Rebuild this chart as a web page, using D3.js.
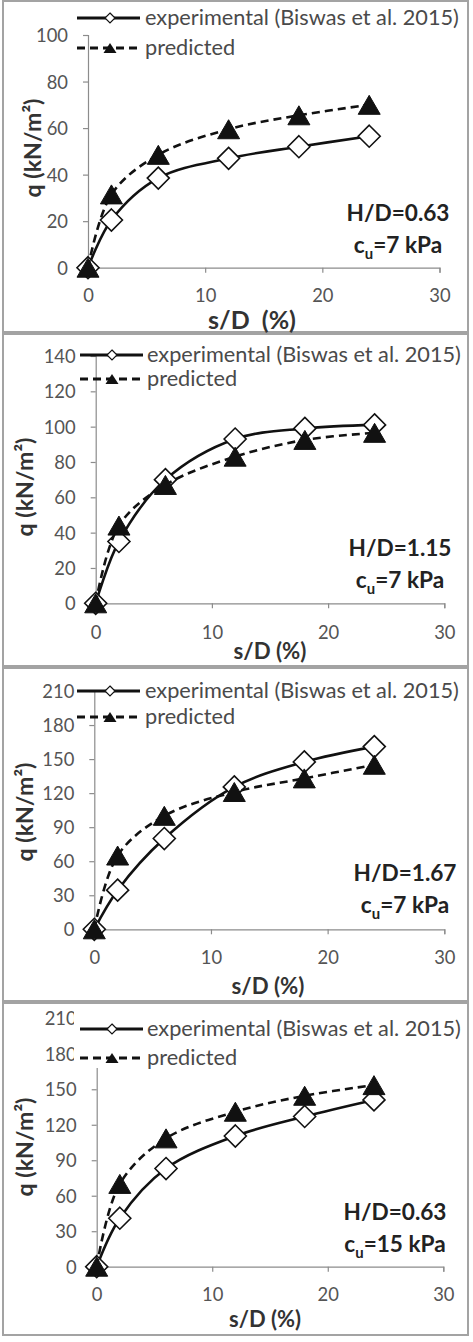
<!DOCTYPE html>
<html>
<head>
<meta charset="utf-8">
<script src="https://cdn.jsdelivr.net/npm/d3@7"></script>
<style>
  body { margin: 0; background: #fff; }
  svg { display: block; }
</style>
</head>
<body>
<svg id="chart"></svg>
<script>
// settlement ratio s/D (%) - same for every panel
const sD = [0, 2, 6, 12, 18, 24];
const xTicks = [0, 10, 20, 30];

// q (kN/m2)
const exp063cu7 = [0, 20.5, 38.5, 47, 52, 56.5];
const pred063cu7 = [0, 31.5, 48.5, 59.5, 65.5, 70];
const exp115cu7 = [0, 35, 70, 93, 99, 101];
const pred115cu7 = [0, 44, 67, 83, 92.5, 96.5];
const exp167cu7 = [0, 34.5, 80, 125.5, 147.5, 161];
const pred167cu7 = [0, 65, 100, 121, 133, 145];
const exp063cu15 = [0, 41, 83, 110.5, 127, 141];
const pred063cu15 = [0, 70, 108.5, 131, 144.5, 153.5];

const yTicks100 = [0, 20, 40, 60, 80, 100];
const yTicks140 = [0, 20, 40, 60, 80, 100, 120, 140];
const yTicks210 = [0, 30, 60, 90, 120, 150, 180, 210];

const seriesNames = ["experimental (Biswas et al. 2015)", "predicted"];
const hdLabels = ["H/D=0.63", "H/D=1.15", "H/D=1.67", "H/D=0.63"];
const cuValues = ["7", "7", "7", "15"];

// scale a text's font so it spans the width seen in the figure
function fitWidth(sel, target) {
  const w = sel.node().getComputedTextLength();
  const fs = parseFloat(sel.style('font-size'));
  const nfs = fs * target / w;
  sel.style('font-size', nfs + 'px');
  return nfs;
}

class SettlementPanel {

  constructor(_config, _data) {
    this.config = _config;
    this.data = _data;
    this.initVis();
  }

  initVis() {
    let vis = this;
    const c = vis.config;
    const g = d3.select('#chart').append('g');
    vis.g = g;

    // panel frame
    g.append('rect')
      .attr('x', 3).attr('y', c.top)
      .attr('width', 465).attr('height', c.bottom - c.top)
      .attr('fill', 'none')
      .attr('stroke', '#a3a3a3')
      .attr('stroke-width', 2);

    vis.xScale = d3.scaleLinear().domain([0, 30]).range([c.x0, c.x30]);
    vis.yScale = d3.scaleLinear().domain([0, d3.max(vis.data.yTicks)]).range([c.y0, c.yTop]);

    // tick font: three digits are about 32px wide in the figure
    const probe = g.append('text').style('font-family', 'Lato').style('font-size', '20px').text('100');
    const tickFs = fitWidth(probe, 32);
    probe.remove();

    const xAxis = g.append('g')
      .attr('transform', `translate(0, ${c.y0})`)
      .call(d3.axisBottom(vis.xScale).tickValues(xTicks).tickSize(5).tickSizeOuter(5).tickPadding(c.xPad));

    const yAxis = g.append('g')
      .attr('transform', `translate(${c.x0}, 0)`)
      .call(d3.axisLeft(vis.yScale).tickValues(vis.data.yTicks).tickSize(5).tickSizeOuter(5).tickPadding(c.yPad));

    [xAxis, yAxis].forEach(a => {
      a.selectAll('path, line').attr('stroke', '#8c8c8c').attr('stroke-width', 1.2);
      a.selectAll('text')
        .attr('fill', '#555')
        .style('font-family', 'Lato')
        .style('font-size', tickFs + 'px');
    });
    yAxis.selectAll('text').attr('dy', '0.36em');

    // axis titles
    const xt = g.append('text')
      .attr('x', c.xTitle[0]).attr('y', c.xTitle[1])
      .attr('text-anchor', 'middle')
      .attr('dy', '0.35em')
      .style('font-family', 'Lato').style('font-weight', 'bold').style('font-size', '20px')
      .attr('fill', '#333')
      .attr('xml:space', 'preserve')
      .text(c.xTitleText);
    fitWidth(xt, c.xTitleW);

    const yt = g.append('text')
      .attr('transform', `translate(${c.yTitle[0]}, ${c.yTitle[1]}) rotate(-90)`)
      .attr('text-anchor', 'middle')
      .attr('dy', '0.35em')
      .style('font-family', 'Lato').style('font-weight', 'bold').style('font-size', '20px')
      .attr('fill', '#333')
      .text('q (kN/m²)');
    fitWidth(yt, 99);

    // annotation
    const hd = g.append('text')
      .attr('x', c.note[0]).attr('y', c.note[1])
      .attr('text-anchor', 'middle').attr('dy', '0.35em')
      .style('font-family', 'Lato').style('font-weight', 'bold').style('font-size', '24px')
      .attr('fill', '#222')
      .text(vis.data.hd);
    const noteFs = fitWidth(hd, 103);

    const cu = g.append('text')
      .attr('x', c.note[0]).attr('y', c.note[1] + 32)
      .attr('text-anchor', 'middle').attr('dy', '0.35em')
      .style('font-family', 'Lato').style('font-weight', 'bold').style('font-size', noteFs + 'px')
      .attr('fill', '#222');
    cu.append('tspan').text('c');
    cu.append('tspan').attr('dy', 6).style('font-size', (noteFs * 0.66) + 'px').text('u');
    cu.append('tspan').attr('dy', -6).text(`=${vis.data.cu} kPa`);

    vis.updateVis();
  }

  diamond(s) {
    return `M0,${-s}L${s},0L0,${s}L${-s},0Z`;
  }

  triangle(w, h) {
    return `M0,${-h / 2}L${w / 2},${h / 2}L${-w / 2},${h / 2}Z`;
  }

  updateVis() {
    let vis = this;
    const c = vis.config;
    const pts = (ys) => sD.map((x, i) => [x, ys[i]]);

    const line = d3.line()
      .x(d => vis.xScale(d[0]))
      .y(d => vis.yScale(d[1]))
      .curve(d3.curveCatmullRom.alpha(0.5));

    // experimental
    vis.g.append('path')
      .attr('d', line(pts(vis.data.exp)))
      .attr('fill', 'none').attr('stroke', '#111').attr('stroke-width', 2.6);
    vis.g.selectAll('.expMark')
      .data(pts(vis.data.exp))
      .enter().append('path')
      .attr('class', 'expMark')
      .attr('transform', d => `translate(${vis.xScale(d[0])}, ${vis.yScale(d[1])})`)
      .attr('d', vis.diamond(11))
      .attr('fill', '#fff').attr('stroke', '#111').attr('stroke-width', 1.6);

    // predicted
    vis.g.append('path')
      .attr('d', line(pts(vis.data.pred)))
      .attr('fill', 'none').attr('stroke', '#111').attr('stroke-width', 2.6)
      .attr('stroke-dasharray', '8,5');
    vis.g.selectAll('.predMark')
      .data(pts(vis.data.pred))
      .enter().append('path')
      .attr('class', 'predMark')
      .attr('transform', d => `translate(${vis.xScale(d[0])}, ${vis.yScale(d[1])})`)
      .attr('d', vis.triangle(22, 19))
      .attr('fill', '#111').attr('stroke', '#111').attr('stroke-width', 1);

    // legend
    const lg = vis.g.append('g');
    if (c.legendBox) {
      lg.append('rect')
        .attr('x', c.legendBox[0]).attr('y', c.legendBox[1])
        .attr('width', c.legendBox[2]).attr('height', c.legendBox[3])
        .attr('fill', '#fff');
    }
    const L = c.legend;
    lg.append('line')
      .attr('x1', L.x1).attr('x2', L.x2).attr('y1', L.y[0]).attr('y2', L.y[0])
      .attr('stroke', '#111').attr('stroke-width', 3);
    lg.append('path')
      .attr('transform', `translate(${L.mx}, ${L.y[0]})`)
      .attr('d', vis.diamond(5))
      .attr('fill', '#fff').attr('stroke', '#111').attr('stroke-width', 1.2);
    lg.append('line')
      .attr('x1', L.x1).attr('x2', L.x2).attr('y1', L.y[1]).attr('y2', L.y[1])
      .attr('stroke', '#111').attr('stroke-width', 3)
      .attr('stroke-dasharray', '8,5');
    lg.append('path')
      .attr('transform', `translate(${L.mx}, ${L.y[1]})`)
      .attr('d', vis.triangle(13, 10))
      .attr('fill', '#111');

    const lt = lg.selectAll('.lgText')
      .data(seriesNames)
      .enter().append('text')
      .attr('x', L.tx)
      .attr('y', (d, i) => L.y[i])
      .attr('dy', '0.33em')
      .style('font-family', 'Lato').style('font-size', '20px')
      .attr('fill', '#4a4a4a')
      .text(d => d);
    const lgFs = fitWidth(d3.select(lt.nodes()[0]), L.tw);
    lt.style('font-size', lgFs + 'px');
  }
}

const panelLayouts = [
  {top: 1, bottom: 332, x0: 88, x30: 439.5, y0: 267.7, yTop: 35, xPad: 16, yPad: 15,
   xTitle: [252, 320], xTitleText: 's/D  (%)', xTitleW: 88, yTitle: [33, 148], note: [398, 213],
   legend: {x1: 77, x2: 140, mx: 110, tx: 145, tw: 314, y: [18, 48]}},
  {top: 334, bottom: 666, x0: 95.7, x30: 444.3, y0: 603.3, yTop: 356, xPad: 18, yPad: 15,
   xTitle: [270, 651], xTitleText: 's/D (%)', xTitleW: 73, yTitle: [25, 487], note: [400, 548],
   legend: {x1: 80, x2: 143, mx: 112, tx: 147, tw: 314, y: [355, 379]}},
  {top: 668, bottom: 1001, x0: 94.3, x30: 444.3, y0: 929.3, yTop: 691, xPad: 17, yPad: 15,
   xTitle: [268, 986], xTitleText: 's/D (%)', xTitleW: 73, yTitle: [25, 812], note: [405, 873],
   legend: {x1: 77, x2: 140, mx: 110, tx: 145, tw: 314, y: [691, 717]}},
  {top: 1003, bottom: 1335, x0: 96.7, x30: 443.3, y0: 1266.7, yTop: 1018.3, xPad: 16, yPad: 15,
   xTitle: [265, 1319], xTitleText: 's/D (%)', xTitleW: 72, yTitle: [25, 1147], note: [395, 1212],
   legend: {x1: 80, x2: 143, mx: 112, tx: 147, tw: 314, y: [1029, 1058]},
   legendBox: [74, 1010, 390, 58]}
];

const panelData = [
  {exp: exp063cu7, pred: pred063cu7, yTicks: yTicks100, hd: hdLabels[0], cu: cuValues[0]},
  {exp: exp115cu7, pred: pred115cu7, yTicks: yTicks140, hd: hdLabels[1], cu: cuValues[1]},
  {exp: exp167cu7, pred: pred167cu7, yTicks: yTicks210, hd: hdLabels[2], cu: cuValues[2]},
  {exp: exp063cu15, pred: pred063cu15, yTicks: yTicks210, hd: hdLabels[3], cu: cuValues[3]}
];

d3.select('#chart').attr('width', 473).attr('height', 1342);

panelLayouts.forEach((layout, i) => new SettlementPanel(layout, panelData[i]));
</script>
</body>
</html>
